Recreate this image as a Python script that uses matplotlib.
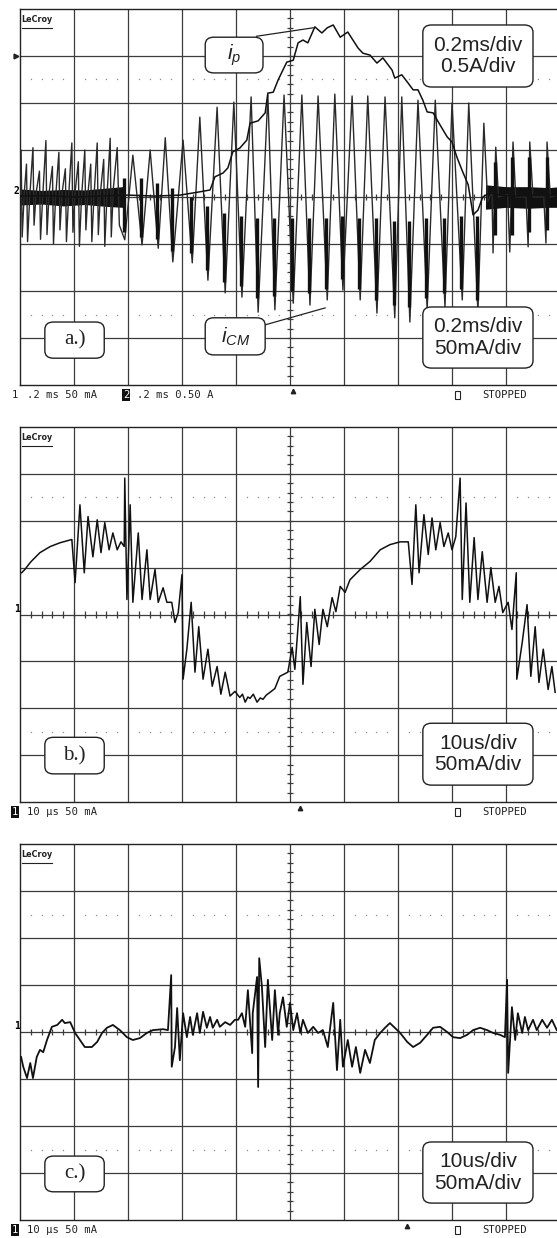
import matplotlib
matplotlib.use("Agg")
import matplotlib.pyplot as plt
from matplotlib.patches import FancyBboxPatch, Rectangle
import numpy as np

plt.rcParams['mathtext.fontset'] = 'custom'
plt.rcParams['mathtext.it'] = 'Liberation Sans:italic'
plt.rcParams['mathtext.rm'] = 'Liberation Sans'

# all traces in screen divisions: t = 0..10 div, y = -4..4 div (0 = centre line)

# a.) primary current i_p, 0.2 ms/div, 0.5 A/div
ip_t = [0.00, 0.50, 1.00, 1.48, 2.00, 2.50, 2.96, 3.33, 3.52, 3.61, 3.76, 3.85, 3.94, 4.07, 4.20,
        4.26, 4.41, 4.54, 4.59, 4.69, 4.78, 4.94, 5.06, 5.15, 5.24, 5.33, 5.46, 5.59, 5.69, 5.80,
        5.93, 6.07, 6.26, 6.35, 6.48, 6.61, 6.72, 6.89, 6.94, 7.07, 7.17, 7.28, 7.37, 7.46, 7.54,
        7.65, 7.78, 7.91, 8.00, 8.09, 8.20, 8.30, 8.39, 8.48, 8.57, 8.70, 8.89, 9.20, 9.60, 10.0]
ip_y = [0.02, 0.03, 0.00, 0.02, 0.04, 0.02, 0.04, 0.11, 0.15, 0.43, 0.51, 0.62, 0.96, 1.04, 1.21,
        1.57, 1.62, 1.79, 2.21, 2.23, 2.49, 2.87, 2.91, 3.28, 3.34, 3.28, 3.62, 3.49, 3.60, 3.66,
        3.40, 3.51, 3.17, 3.06, 3.02, 2.85, 2.96, 2.70, 2.53, 2.60, 2.45, 2.28, 2.28, 2.06, 1.81,
        1.79, 1.53, 1.28, 1.17, 0.85, 0.53, 0.26, -0.38, -0.28, 0.00, 0.09, 0.04, 0.02, 0.05, 0.03]

# a.) common-mode current i_CM, 0.2 ms/div, 50 mA/div (spike vertices)
cm_t = [0.00, 0.02, 0.04, 0.08, 0.12, 0.14, 0.18, 0.24, 0.26, 0.30, 0.36, 0.38, 0.42, 0.48, 0.50,
        0.54, 0.60, 0.62, 0.66, 0.72, 0.74, 0.78, 0.84, 0.86, 0.90, 0.96, 0.98, 1.02, 1.08, 1.10,
        1.14, 1.20, 1.22, 1.26, 1.31, 1.33, 1.37, 1.43, 1.45, 1.49, 1.55, 1.57, 1.61, 1.67, 1.69,
        1.73, 1.80, 1.84,
        1.94, 2.09, 2.26, 2.41, 2.56, 2.69, 2.83, 3.02, 3.19, 3.33, 3.48, 3.65, 3.80, 3.96, 4.11,
        4.28, 4.41, 4.59, 4.72, 4.89, 5.06, 5.22, 5.37, 5.52, 5.69, 5.83, 5.98, 6.15, 6.30, 6.44,
        6.61, 6.76, 6.94, 7.07, 7.22, 7.37, 7.54, 7.69, 7.87, 8.00, 8.19, 8.31, 8.48, 8.59,
        8.66, 8.74, 8.76, 8.81, 8.86, 9.03, 9.07, 9.13, 9.18, 9.37, 9.41, 9.44, 9.50, 9.70, 9.74,
        9.76, 9.82, 10.0]
cm_y = [0.05, 1.00, -0.85, 0.10, 0.70, -0.95, 0.00, 1.05, -0.60, 0.10, 0.55, -0.90, 0.00, 1.20, -0.80,
        0.10, 0.65, -1.00, 0.00, 0.95, -0.70, 0.10, 0.60, -0.95, 0.00, 1.15, -0.75, 0.10, 0.75, -1.05,
        0.00, 1.00, -0.70, 0.10, 0.70, -0.95, 0.00, 1.15, -0.80, 0.10, 0.80, -1.05, 0.00, 1.25, -0.85,
        0.20, 1.05, -0.60,
        -0.91, 0.89, -1.02, 1.00, -1.09, 1.26, -1.38, 1.21, -1.40, 1.70, -1.77, 1.91, -2.04, 2.02, -2.13,
        2.13, -2.45, 2.17, -2.40, 2.17, -2.26, 2.17, -2.30, 2.15, -2.19, 2.19, -1.98, 2.15, -2.19, 2.15,
        -2.47, 2.13, -2.57, 2.13, -2.66, 2.06, -2.40, 2.06, -2.34, 2.00, -2.19, 2.00, -2.45, 1.57,
        -0.10, 0.10, -1.19, 1.06, 0.00, 0.05, -1.17, 1.17, 0.00, 0.00, -1.06, 1.17, 0.00, 0.00, -0.98,
        1.17, 0.00, 0.05]

# dense (unresolved) ringing bursts of i_CM
dense_t = [1.92, 2.24, 2.54, 2.81, 3.17, 3.46, 3.78, 4.09, 4.39, 4.70, 5.04, 5.35, 5.67, 5.96, 6.28,
           6.59, 6.92, 7.20, 7.52, 7.85, 8.17, 8.46, 8.80, 9.12, 9.43, 9.75]
dense_top = [0.40, 0.40, 0.30, 0.20, 0.00, -0.20, -0.35, -0.40, -0.45, -0.45, -0.45, -0.45, -0.45,
             -0.40, -0.45, -0.45, -0.50, -0.50, -0.45, -0.45, -0.40, -0.40, 0.75, 0.85, 0.85, 0.85]
dense_bot = [-0.75, -0.85, -0.90, -1.15, -1.20, -1.55, -1.80, -1.90, -2.15, -2.10, -2.00, -2.05, -1.95,
             -1.75, -1.95, -2.20, -2.30, -2.35, -2.15, -2.05, -1.95, -2.20, -0.80, -0.80, -0.75, -0.70]

# noise band around the baseline
band1_t = [0.0, 0.4, 0.8, 1.2, 1.6, 1.9]
band1_lo = [-0.17, -0.15, -0.19, -0.16, -0.20, -0.22]
band1_hi = [0.17, 0.14, 0.16, 0.15, 0.19, 0.22]
band2_t = [8.62, 9.0, 9.4, 9.8, 10.0]
band2_lo = [-0.26, -0.22, -0.24, -0.22, -0.22]
band2_hi = [0.26, 0.22, 0.22, 0.20, 0.22]

# b.) i_CM, 10 us/div, 50 mA/div
b_t = [0.03, 0.09, 0.19, 0.24, 0.37, 0.56, 0.74, 0.96, 1.02, 1.11,
       1.19, 1.26, 1.35, 1.43, 1.50, 1.57, 1.65, 1.72, 1.80, 1.87,
       1.93, 1.94, 1.98, 2.04, 2.09, 2.19, 2.26, 2.35, 2.41, 2.50,
       2.56, 2.65, 2.72, 2.81, 2.87, 2.93, 3.00, 3.02, 3.09, 3.17,
       3.24, 3.31, 3.39, 3.48, 3.56, 3.65, 3.72, 3.80, 3.89, 3.98,
       4.07, 4.12, 4.17, 4.22, 4.26, 4.32, 4.39, 4.45, 4.50, 4.56,
       4.63, 4.72, 4.81, 4.96, 5.04, 5.09,
       5.19, 5.24, 5.31, 5.39, 5.46, 5.54, 5.61, 5.69, 5.78, 5.85,
       5.93, 6.02, 6.11, 6.30, 6.48, 6.67, 6.85, 7.04, 7.19, 7.26,
       7.33, 7.39, 7.48, 7.56, 7.63, 7.70, 7.78, 7.85, 7.93, 8.00,
       8.07, 8.15, 8.19, 8.26, 8.33, 8.41, 8.48, 8.56, 8.65, 8.72,
       8.80, 8.87, 8.94, 9.04, 9.11, 9.19, 9.20, 9.30, 9.39, 9.46,
       9.54, 9.61, 9.69, 9.78, 9.85, 9.91]
b_y = [0.89, 0.96, 1.11, 1.17, 1.32, 1.45, 1.53, 1.60, 0.68, 2.34,
       0.89, 2.09, 1.23, 2.02, 1.32, 1.96, 1.38, 1.74, 1.38, 1.55,
       1.45, 2.91, 0.32, 2.34, 0.26, 1.74, 0.32, 1.38, 0.32, 0.96,
       0.26, 0.57, 0.26, 0.26, -0.17, 0.04, 0.85, -1.38, -0.74, 0.26,
       -1.23, -0.26, -1.38, -0.74, -1.53, -1.11, -1.70, -1.23, -1.74, -1.64,
       -1.77, -1.70, -1.87, -1.76, -1.79, -1.70, -1.87, -1.78, -1.81, -1.72,
       -1.66, -1.58, -1.32, -1.23, -0.70, -1.17,
       0.38, -1.49, -0.17, -1.11, 0.11, -0.64, 0.11, -0.26, 0.36, 0.06,
       0.60, 0.47, 0.74, 0.96, 1.13, 1.38, 1.49, 1.55, 1.55, 0.64,
       2.34, 0.89, 2.13, 1.28, 2.06, 1.38, 1.96, 1.45, 1.74, 1.38,
       1.66, 2.91, 0.32, 2.38, 0.26, 1.64, 0.32, 1.34, 0.26, 1.00,
       0.26, 0.60, 0.04, 0.26, -0.32, 0.89, -1.38, -0.60, 0.21, -1.32,
       -0.26, -1.45, -0.74, -1.60, -1.11, -1.66]

# c.) i_CM, 10 us/div, 50 mA/div
c_t = [0.02, 0.06, 0.13, 0.19, 0.24, 0.31, 0.37, 0.43, 0.50, 0.59,
       0.69, 0.78, 0.83, 0.93, 1.02, 1.11, 1.20, 1.33, 1.43, 1.52,
       1.61, 1.72, 1.85, 1.98, 2.09, 2.22, 2.35, 2.46, 2.65, 2.74,
       2.80, 2.81, 2.87, 2.91, 2.96, 3.02, 3.09, 3.15, 3.20, 3.28,
       3.33, 3.39, 3.46, 3.52, 3.57, 3.65, 3.70, 3.80, 3.89, 3.98,
       4.04, 4.11, 4.17, 4.22, 4.30, 4.31, 4.39, 4.41, 4.43, 4.48,
       4.54, 4.59, 4.67, 4.72, 4.78, 4.81, 4.87, 4.94, 5.00, 5.06,
       5.13, 5.19, 5.24, 5.33, 5.43, 5.52, 5.61, 5.70, 5.80, 5.87,
       5.93, 5.98, 6.07, 6.15, 6.22, 6.30, 6.39, 6.48, 6.57, 6.67,
       6.76, 6.85, 6.94, 7.04, 7.17, 7.28, 7.41, 7.54, 7.65, 7.78,
       7.91, 8.02, 8.15, 8.28, 8.39, 8.52, 8.65, 8.76, 8.89, 8.98,
       9.02, 9.04, 9.11, 9.17, 9.22, 9.30, 9.35, 9.41, 9.50, 9.57,
       9.67, 9.76, 9.85, 9.94]
c_y = [-0.53, -0.74, -0.98, -0.66, -0.98, -0.53, -0.38, -0.43, -0.17, 0.11,
       0.15, 0.26, 0.19, 0.21, -0.02, -0.17, -0.32, -0.32, -0.21, -0.02,
       0.09, 0.15, 0.04, -0.11, -0.17, -0.13, -0.02, 0.04, 0.06, 0.04,
       1.21, -0.74, -0.32, 0.51, -0.60, 0.40, -0.11, 0.32, -0.06, 0.40,
       -0.02, 0.43, 0.09, 0.32, 0.09, 0.26, 0.11, 0.21, 0.15, 0.26,
       0.26, 0.40, 0.11, 0.89, -0.45, 0.40, 1.17, -1.17, 1.57, 0.96,
       -0.32, 1.11, -0.17, 0.89, -0.06, 0.40, 0.74, 0.11, 0.62, 0.04,
       0.40, -0.02, 0.26, -0.02, 0.11, -0.02, 0.04, -0.32, 0.62, -0.81,
       0.26, -0.74, -0.17, -0.74, -0.32, -0.87, -0.38, -0.66, -0.17, -0.02,
       0.09, 0.19, 0.09, -0.02, -0.21, -0.32, -0.23, -0.06, 0.09, 0.11,
       0.00, -0.11, -0.13, -0.06, 0.04, 0.09, 0.04, -0.02, -0.06, -0.11,
       1.11, -0.87, 0.53, -0.17, 0.40, -0.02, 0.32, 0.04, 0.26, 0.04,
       0.26, 0.09, 0.26, 0.04]

W, H = 557, 1238
GRID = '#3c3c3c'
INK = '#111111'
MONO = 'DejaVu Sans Mono'

fig = plt.figure(figsize=(W / 100, H / 100), dpi=100)
fig.patch.set_facecolor('white')


def add_scope(top, bottom):
    ax = fig.add_axes([20 / W, 1 - bottom / H, 540 / W, (bottom - top) / H])
    ax.set_xlim(0, 10)
    ax.set_ylim(-4, 4)
    ax.set_xticks([])
    ax.set_yticks([])
    for s in ax.spines.values():
        s.set_color('#222222')
        s.set_linewidth(1.0)
    for x in range(1, 10):
        ax.axvline(x, color=GRID, lw=0.9, zorder=1)
    for y in range(-3, 4):
        ax.axhline(y, color=GRID, lw=0.9, zorder=1)
    minor_x = np.arange(0.2, 10, 0.2)
    minor_y = np.arange(-3.8, 4, 0.2)
    ax.vlines(minor_x, -0.07, 0.07, color=GRID, lw=0.9, zorder=1)
    ax.hlines(minor_y, 4.94, 5.06, color=GRID, lw=0.9, zorder=1)
    dots = [v for v in minor_x if abs(v - round(v)) > 0.05]
    for yy in (2.5, -2.5):
        ax.plot(dots, [yy] * len(dots), ls='none', marker='s', ms=0.9,
                color='#8a8a8a', mec='none', zorder=1)
    ax.text(0.03, 3.88, 'LeCroy', fontsize=5.8, weight='bold', family='DejaVu Sans',
            va='top', ha='left', color='#222222', zorder=6)
    ax.plot([0.03, 0.60], [3.6, 3.6], color='#222222', lw=0.8, zorder=6)
    return ax


def label_box(ax, x0, y0, x1, y1, text, size=15, family='Liberation Sans'):
    box = FancyBboxPatch((x0, y0), x1 - x0, y1 - y0,
                         boxstyle='round,pad=0,rounding_size=0.16',
                         fc='white', ec='#222222', lw=1.0, zorder=8)
    ax.add_patch(box)
    ax.text((x0 + x1) / 2, (y0 + y1) / 2, text, ha='center', va='center',
            fontsize=size, family=family, color='#222222', zorder=9, linespacing=1.15)


def status(y, parts, trig_x, ax):
    for x, s, inv in parts:
        kw = dict(fontsize=7.6, family=MONO, va='center', ha='left', color='#222222')
        if inv:
            kw.update(color='white', bbox=dict(fc='#111111', ec='none', pad=0.4))
        fig.text(x / W, 1 - y / H, s, **kw)
    fig.text(482 / W, 1 - y / H, 'STOPPED', fontsize=7.6, family=MONO, va='center',
             ha='left', color='#222222')
    fig.add_artist(Rectangle((455 / W, 1 - (y + 4) / H), 5 / W, 8 / H, fill=False,
                             ec='#222222', lw=0.8, transform=fig.transFigure))
    ax.plot([trig_x], [-4.13], marker='^', ms=3.2, color='#222222',
            clip_on=False, zorder=10)


# ---------------- panel a ----------------
ax = add_scope(9, 385)
ax.fill_between(band1_t, band1_lo, band1_hi, color=INK, lw=0, zorder=3)
ax.fill_between(band2_t, band2_lo, band2_hi, color=INK, lw=0, zorder=3)
ax.plot(cm_t, cm_y, color='#2a2a2a', lw=1.0, zorder=3)
ax.vlines(dense_t, dense_bot, dense_top, color=INK, lw=2.4, zorder=3)
ax.plot(ip_t, ip_y, color=INK, lw=1.1, zorder=4)
ax.plot([-0.07], [3.0], marker='>', ms=3.5, color='#222222', clip_on=False, zorder=10)
ax.text(-0.06, 0.02, '2', fontsize=7, weight='bold', family=MONO, ha='center',
        va='bottom', clip_on=False, zorder=10)
label_box(ax, 3.43, 2.64, 4.50, 3.40, r'$i_p$')
ax.plot([4.38, 5.43], [3.42, 3.60], color='#222222', lw=0.9, zorder=7)
label_box(ax, 3.43, -3.36, 4.54, -2.57, r'$i_{CM}$')
ax.plot([4.54, 5.65], [-2.72, -2.36], color='#222222', lw=0.9, zorder=7)
label_box(ax, 0.46, -3.43, 1.56, -2.66, 'a.)', family='Liberation Serif')
label_box(ax, 7.46, 2.34, 9.50, 3.66, '0.2ms/div\n0.5A/div')
label_box(ax, 7.46, -3.64, 9.50, -2.34, '0.2ms/div\n50mA/div')
status(395, [(12, '1', False), (27, '.2 ms 50 mA', False), (123, '2', True),
             (137, '.2 ms 0.50 A', False)], 5.06, ax)

# ---------------- panel b ----------------
ax = add_scope(427, 802)
ax.plot(b_t, b_y, color=INK, lw=1.1, zorder=4)
ax.text(-0.06, 0.02, '1', fontsize=7, weight='bold', family=MONO, ha='center',
        va='bottom', clip_on=False, zorder=10)
label_box(ax, 0.46, -3.40, 1.56, -2.62, 'b.)', family='Liberation Serif')
label_box(ax, 7.46, -3.64, 9.50, -2.32, '10us/div\n50mA/div')
status(812, [(12, '1', True), (27, '10 µs 50 mA', False)], 5.19, ax)

# ---------------- panel c ----------------
ax = add_scope(844, 1220)
ax.plot(c_t, c_y, color=INK, lw=1.3, zorder=4)
ax.text(-0.06, 0.02, '1', fontsize=7, weight='bold', family=MONO, ha='center',
        va='bottom', clip_on=False, zorder=10)
label_box(ax, 0.46, -3.40, 1.56, -2.64, 'c.)', family='Liberation Serif')
label_box(ax, 7.46, -3.64, 9.50, -2.34, '10us/div\n50mA/div')
status(1230, [(12, '1', True), (27, '10 µs 50 mA', False)], 7.17, ax)

fig.savefig('out.png', dpi=100, facecolor='white')
